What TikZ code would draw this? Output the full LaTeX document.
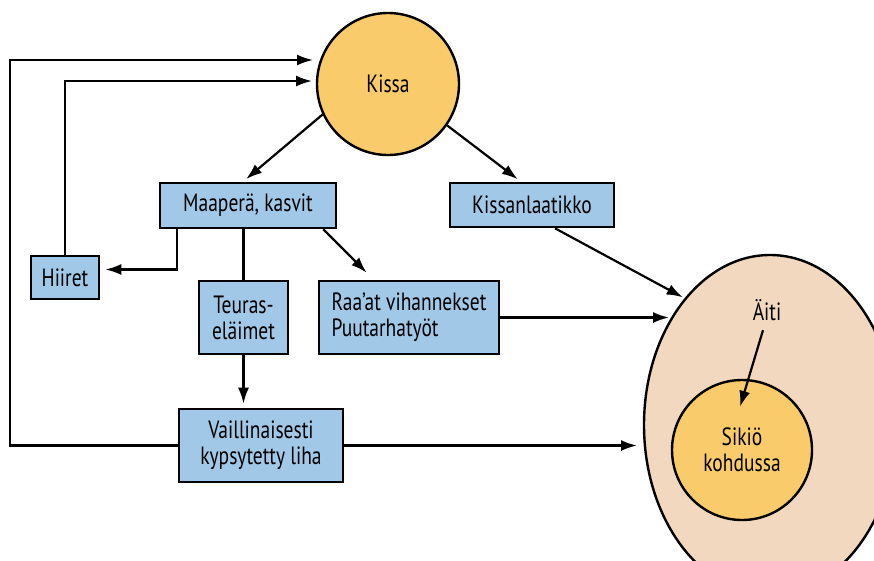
\documentclass[tikz,border=0pt]{standalone}
\usepackage{fontspec}
\setmainfont{PT Sans}[FakeStretch=0.78]
\usetikzlibrary{calc,positioning,arrows.meta,shapes.geometric}
\definecolor{boxblue}{RGB}{162,200,232}
\definecolor{catyellow}{RGB}{249,203,106}
\definecolor{motherpink}{RGB}{243,216,192}

\begin{document}
\begin{tikzpicture}[x=1pt,y=1pt,>={Latex[length=16pt,width=11pt]}]
  \tikzset{
    box/.style={draw, line width=2.6pt, fill=boxblue, minimum height=45pt,
      align=center, inner sep=0pt, font=\fontsize{25}{26}\selectfont},
    tallbox/.style={box, minimum height=73pt},
    blob/.style={draw, line width=2.4pt, font=\fontsize{25}{26}\selectfont, align=center},
    link/.style={line width=2.2pt},
  }
  \useasboundingbox (0,0) rectangle (874,-560);
  \clip (0,0) rectangle (874,-560);

  \node[blob, ellipse, fill=motherpink, minimum width=252pt, minimum height=340pt] (aiti) at (770,-425) {};
  \node[blob, circle, fill=catyellow, minimum size=140pt] (sikio) at (742,-450) {Sikiö\\kohdussa};
  \node[font=\fontsize{25}{26}\selectfont] (aitilabel) at (767,-310) {Äiti};

  \node[blob, circle, fill=catyellow, minimum size=142pt] (kissa) at (388,-84) {Kissa};

  \node[box, minimum width=176pt] (maaperae) at (248,-205.5) {Maaperä, kasvit};
  \node[box, minimum width=164pt, minimum height=44pt] (kissanl) at (532,-205) {Kissanlaatikko};
  \node[box, minimum width=68pt, minimum height=43pt] (hiiret) at (65,-277.5) {Hiiret};
  \node[tallbox, minimum width=89pt] (teuras) at (243.5,-317.5) {Teuras-\\eläimet};
  \node[tallbox, minimum width=180pt, align=left] (raaat) at (409,-317.5) {Raa’at vihannekset\\Puutarhatyöt};
  \node[tallbox, minimum width=164pt] (vaill) at (261,-445.5) {Vaillinaisesti\\kypsytetty liha};

  \coordinate (loopleft) at (10,-60);
  \coordinate (kissain1) at (313,-60);
  \coordinate (kissain2) at (312,-81);
  \coordinate (aitiin2) at (669,-317.5);
  \coordinate (aitiin3) at (637,-445.5);

  \draw[link,->,shorten >=4pt] (kissa.205) -- ([xshift=-5pt]maaperae.north);
  \draw[link,->,shorten >=4pt] (kissa.325) -- ([xshift=-11pt]kissanl.north);
  \draw[link,->] (vaill.west) -| (loopleft) -- (kissain1);
  \draw[link,->] (hiiret.north) |- (kissain2);
  \draw[link,->] ([xshift=18pt]maaperae.south west) |- ([shift={(5,8)}]hiiret.east);
  \draw[link] (teuras.north |- maaperae.south) -- (teuras.north);
  \draw[link,->] ([xshift=-14pt]maaperae.south east) -- ([shift={(49,7)}]raaat.north west);
  \draw[link,->,shorten >=4pt] (teuras.south) -- (teuras.south |- vaill.north);
  \draw[link,->,shorten >=2pt] ([xshift=23pt]kissanl.south) -- (aiti.124);
  \draw[link,->] (raaat.east) -- (aitiin2);
  \draw[link,->] (vaill.east) -- (aitiin3);
  \draw[link,->] ([shift={(-4,-6)}]aitilabel.south) -- ([shift={(-2,-28)}]sikio.north);
\end{tikzpicture}
\end{document}
